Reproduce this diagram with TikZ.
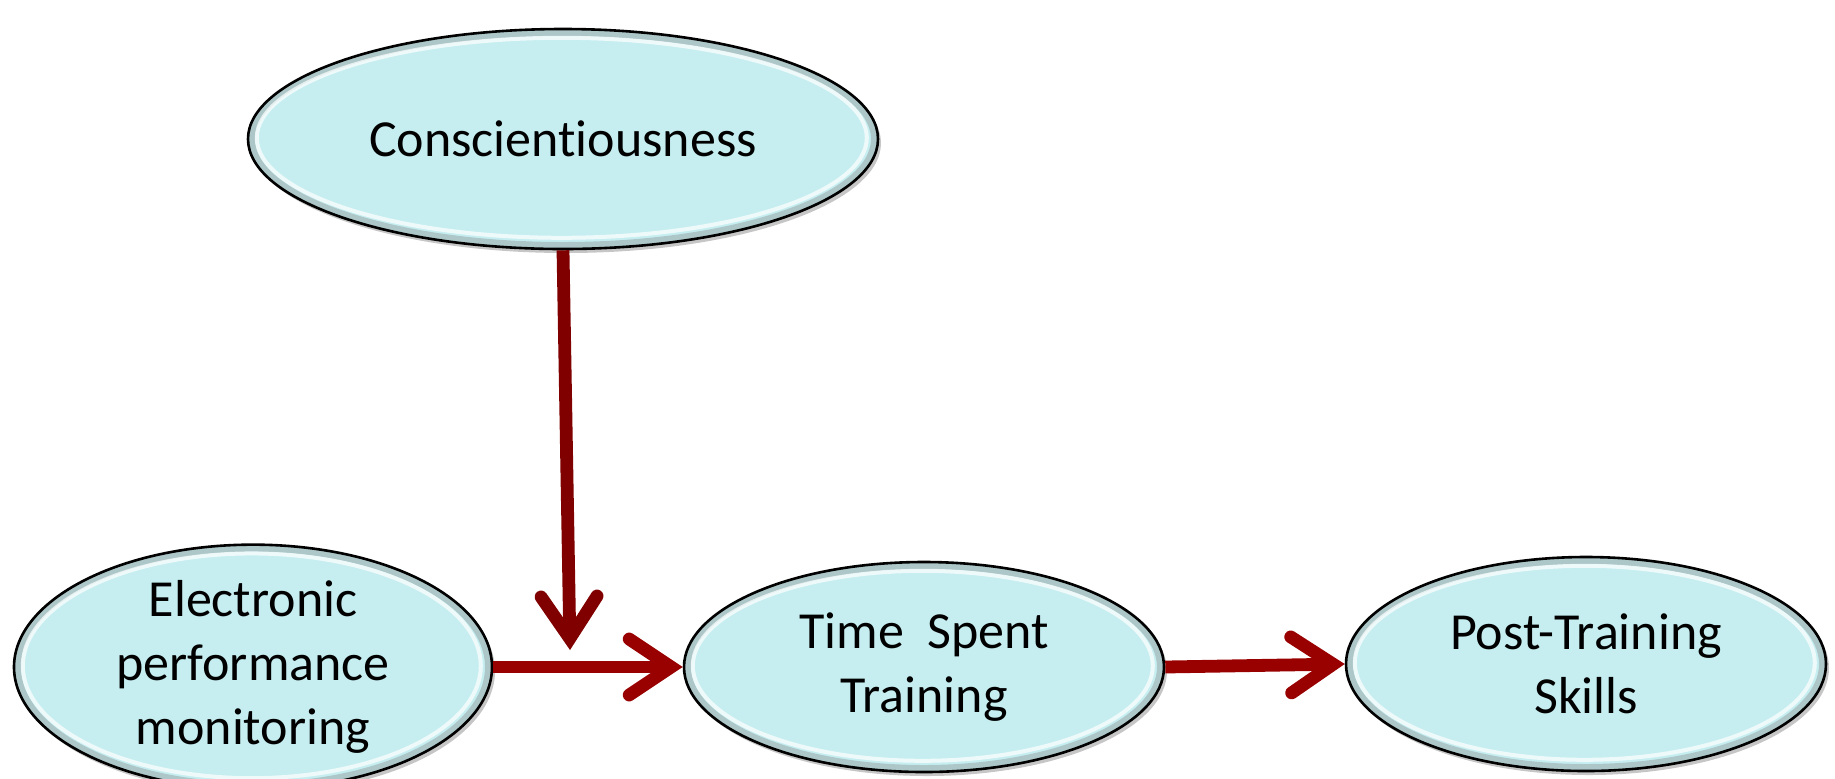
\documentclass[tikz,border=0pt]{standalone}
\usepackage{fontspec}
\setmainfont{Carlito}[Ligatures={NoCommon}]
\usetikzlibrary{arrows.meta,shapes.geometric,shadows,calc}
\definecolor{nodefill}{HTML}{C6EEF1}
\definecolor{arrowred}{HTML}{990000}
\definecolor{arrowdark}{HTML}{800000}
\tikzset{
  oval/.style={ellipse, draw=black, line width=1.3pt, fill=nodefill,
    inner sep=0pt, align=center, font=\fontsize{26}{32}\selectfont,
    drop shadow={shadow xshift=1.5pt, shadow yshift=-2pt, opacity=0.45, fill=gray},
    path picture={
      \draw[gray, opacity=0.35, line width=4pt]
        let \p1=($(path picture bounding box.north east)-(path picture bounding box.center)$) in
        (path picture bounding box.center) ellipse [x radius=\x1-1.5pt, y radius=\y1-1.5pt];
      \draw[white, opacity=0.7, line width=2pt]
        let \p1=($(path picture bounding box.north east)-(path picture bounding box.center)$) in
        ([shift={(-0.6pt,0.6pt)}]path picture bounding box.center) ellipse [x radius=\x1-5pt, y radius=\y1-5pt];
    }},
  link/.style={line width=6.4pt, -{Straight Barb[length=21pt,width=28pt,line cap=round]}},
}
\begin{document}
\begin{tikzpicture}[x=0.5pt,y=-0.5pt]
\useasboundingbox (0,0) rectangle (1835,778);
\node[oval, minimum width=630*0.5pt, minimum height=220*0.5pt] (C) at (563,139) {Conscientiousness};
\node[oval, minimum width=478*0.5pt, minimum height=222*0.5pt] (E) at (253,667) {Electronic\\performance\\monitoring};
\node[oval, minimum width=480*0.5pt, minimum height=210*0.5pt] (T) at (924,667) {Time\ \ Spent\\Training};
\node[oval, minimum width=480*0.5pt, minimum height=214*0.5pt] (P) at (1586,664) {Post-Training\\Skills};
\coordinate (M) at (570,650);
\draw[link, arrowred] (E.east) -- (T.west);
\draw[link, arrowred] (T.east) -- (P.west);
\draw[link, arrowdark] (C.south) -- (M);
\end{tikzpicture}
\end{document}
